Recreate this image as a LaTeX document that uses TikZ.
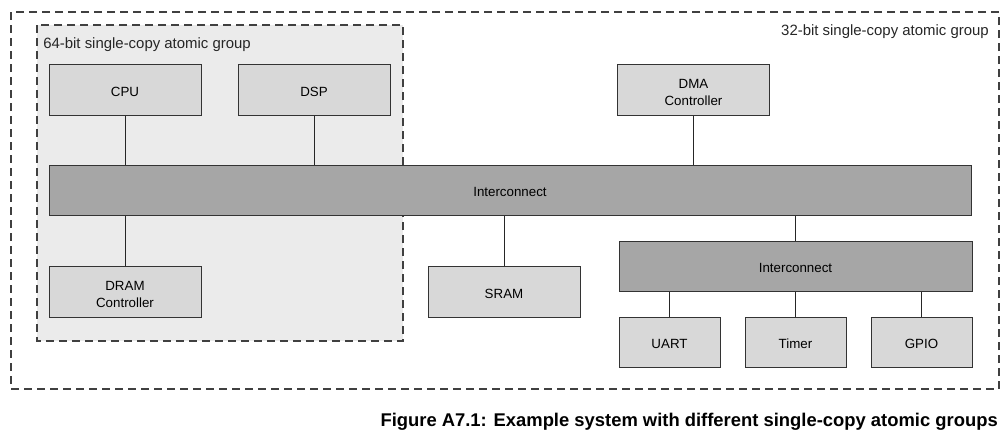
\documentclass[tikz,border=0pt]{standalone}
\usepackage{fontspec}
\setmainfont{Liberation Sans}
\begin{document}
\begin{tikzpicture}[x=0.75pt,y=-0.75pt,
  box/.style={draw=black!80, line width=0.75pt, fill=boxgray, inner sep=0pt, align=center, font=\fontsize{10pt}{12.75pt}\selectfont, execute at begin node={\rule{0pt}{10.4pt}}},
  sbox/.style={box, minimum width=114pt, minimum height=38.25pt},
  twoline/.style={text height=24.5pt, text depth=0pt},
  tbox/.style={box, minimum width=75.75pt, minimum height=37.5pt},
  bus/.style={box, fill=busgray, minimum height=37.5pt},
  wire/.style={draw=black!85, line width=0.75pt},
  group/.style={draw=black!75, line width=1.1pt, dash pattern=on 6pt off 3.75pt},
  glabel/.style={font=\fontsize{11.2pt}{13pt}\selectfont, inner sep=0pt, text=black!85}
]
\definecolor{boxgray}{HTML}{D8D8D8}
\definecolor{busgray}{HTML}{A6A6A6}
\definecolor{groupfill}{HTML}{EBEBEB}
\useasboundingbox (0,0) rectangle (1006,439);

% groups
\draw[group] (11,12) rectangle (999,389);
\draw[group, fill=groupfill] (37,25) rectangle (403,341);
\node[glabel, anchor=west] (g64) at (43,44.5) {64-bit single-copy atomic group};
\node[glabel, anchor=east] (g32) at (989,31.5) {32-bit single-copy atomic group};

% nodes
\node[sbox] (cpu) at (125,89.5) {CPU};
\node[sbox] (dsp) at (314,89.5) {DSP};
\node[sbox, twoline] (dma) at (693.5,89.5) {DMA\\Controller};
\node[bus, minimum width=691.5pt] (ic) at (510,190) {Interconnect};
\node[sbox, twoline] (dram) at (125,291.5) {DRAM\\Controller};
\node[sbox] (sram) at (504,291.5) {SRAM};
\node[bus, minimum width=264.75pt] (ic2) at (795.5,266) {Interconnect};
\node[tbox] (uart) at (669.5,342) {UART};
\node[tbox] (timer) at (795.5,342) {Timer};
\node[tbox] (gpio) at (921.5,342) {GPIO};

% connectors
\draw[wire] (cpu.south) -- (cpu.south |- ic.north);
\draw[wire] (dsp.south) -- (dsp.south |- ic.north);
\draw[wire] (dma.south) -- (dma.south |- ic.north);
\draw[wire] (dram.north) -- (dram.north |- ic.south);
\draw[wire] (sram.north) -- (sram.north |- ic.south);
\draw[wire] (ic2.north) -- (ic2.north |- ic.south);
\draw[wire] (uart.north) -- (uart.north |- ic2.south);
\draw[wire] (timer.north) -- (timer.north |- ic2.south);
\draw[wire] (gpio.north) -- (gpio.north |- ic2.south);

% caption
\node[anchor=east, inner sep=0pt, font=\bfseries\fontsize{13.8pt}{16pt}\selectfont] (cap) at (998,422) {Figure A7.1: Example system with different single-copy atomic groups};
\end{tikzpicture}
\end{document}
